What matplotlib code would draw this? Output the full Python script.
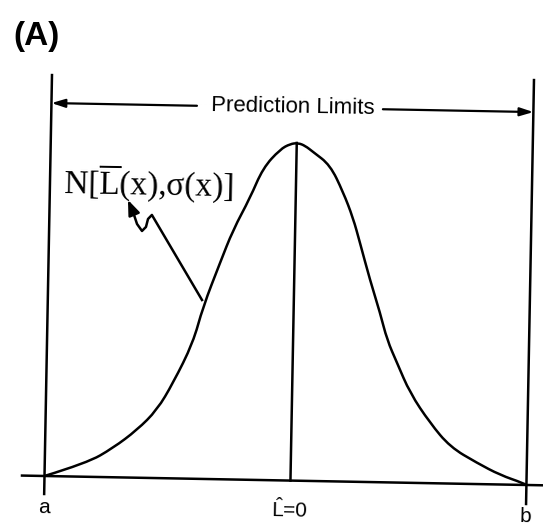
import matplotlib
matplotlib.use("Agg")
import matplotlib.pyplot as plt
from matplotlib.transforms import Affine2D
from matplotlib.path import Path
from matplotlib.patches import PathPatch

plt.rcParams['font.family'] = ['Liberation Sans', 'DejaVu Sans']
plt.rcParams['mathtext.fontset'] = 'custom'
plt.rcParams['mathtext.rm'] = 'Liberation Serif'
plt.rcParams['mathtext.it'] = 'Liberation Serif:italic'
plt.rcParams['mathtext.sf'] = 'Liberation Sans'

# curve: position along the axis, height above the axis
curve_x = [44.5, 86.8, 112.5, 136.1, 155.8, 171.3, 190.5, 199.8, 216.0, 228.4,
           244.8, 257.2, 274.0, 284.0, 291.8, 299.0, 307.0, 324.2, 337.7, 348.2,
           355.6, 366.3, 377.0, 384.5, 394.9, 408.4, 429.0, 449.5, 476.8, 500.0,
           523.1, 526.5]
curve_h = [0.0, 13.8, 29.3, 47.7, 68.1, 95.4, 135.8, 172.0, 216.3, 249.5,
           281.8, 312.0, 331.0, 336.6, 337.7, 335.0, 329.0, 316.3, 289.6, 263.8,
           238.9, 202.0, 169.3, 142.4, 119.6, 89.8, 60.2, 36.6, 21.1, 9.5,
           1.9, 0.0]

lim_a = 44.5
lim_b = 526.5
l_mean = 290.5

# pointer from the curve to the label (with the little squiggle)
pointer_x = [198.7, 147.0, 143.2, 141.3, 137.4, 132.3, 128.1]
pointer_y = [178.9, 263.0, 258.9, 250.9, 246.8, 253.7, 265.6]
pointer_tip = (122.8, 277.6)

title_txt = "Prediction Limits"
dist_txt = r"N[$\overline{\mathrm{L}}$(x),σ(x)]"
tick_txt = ["a", r"$\hat{\mathsf{L}}$=0", "b"]


def smooth_path(xs, ys):
    # quadratic pieces through the midpoints, the read points act as controls
    verts = [(xs[0], ys[0])]
    codes = [Path.MOVETO]
    for i in range(1, len(xs) - 1):
        mx = (xs[i] + xs[i + 1]) / 2
        my = (ys[i] + ys[i + 1]) / 2
        if i == len(xs) - 2:
            mx, my = xs[-1], ys[-1]
        verts += [(xs[i], ys[i]), (mx, my)]
        codes += [Path.CURVE3, Path.CURVE3]
    return Path(verts, codes)


fig = plt.figure(figsize=(5.43, 5.26), dpi=100)
ax = fig.add_axes([0, 0, 1, 1])
ax.set_xlim(0, 543)
ax.set_ylim(0, 526)
ax.axis('off')

# the scan is turned a little, so draw in an axis frame and tilt it
tilt = -1.07
tr = Affine2D().translate(0, 50).rotate_deg_around(45, 50, tilt) + ax.transData
lw = 1.8

ax.plot([22, 545], [0, 0], color='black', lw=lw, transform=tr)
ax.plot([lim_a, lim_a], [-18, 401], color='black', lw=lw, transform=tr)
ax.plot([lim_b, lim_b], [-19, 405], color='black', lw=lw, transform=tr)
ax.plot([l_mean, l_mean], [0, max(curve_h)], color='black', lw=lw, transform=tr)
ax.add_patch(PathPatch(smooth_path(curve_x, curve_h), facecolor='none',
                       edgecolor='black', lw=lw, transform=tr))

# prediction limits arrows
arr_y = 373
ax.annotate("", xy=(lim_a, arr_y), xytext=(190, arr_y), xycoords=tr, textcoords=tr,
            arrowprops=dict(arrowstyle='-|>,head_length=0.8,head_width=0.25',
                            color='black', lw=1.6, shrinkA=0, shrinkB=0))
ax.annotate("", xy=(lim_b, arr_y), xytext=(376, arr_y), xycoords=tr, textcoords=tr,
            arrowprops=dict(arrowstyle='-|>,head_length=0.8,head_width=0.25',
                            color='black', lw=1.6, shrinkA=0, shrinkB=0))
ax.text((lim_a + lim_b) / 2, 368, title_txt, transform=tr, fontsize=16,
        ha='center', va='baseline', rotation=tilt, rotation_mode='anchor')

# distribution label + pointer
ax.text(57.5, 284, dist_txt, transform=tr, fontsize=24, family='Liberation Serif',
        ha='left', va='baseline', rotation=tilt, rotation_mode='anchor')
ax.plot(pointer_x, pointer_y, color='black', lw=lw, transform=tr,
        solid_joinstyle='round')
ax.annotate("", xy=pointer_tip, xytext=(pointer_x[-1], pointer_y[-1]),
            xycoords=tr, textcoords=tr,
            arrowprops=dict(arrowstyle='-|>,head_length=0.9,head_width=0.35',
                            color='black', lw=lw, shrinkA=0, shrinkB=0))

# axis labels
for xpos, s in zip([lim_a, l_mean, lim_b], tick_txt):
    ax.text(xpos, -37, s, transform=tr, fontsize=15, ha='center', va='baseline',
            rotation=tilt, rotation_mode='anchor')

fig.text(13 / 543, 1 - 45 / 526, "(A)", fontsize=24, fontweight='heavy',
         ha='left', va='baseline')

fig.savefig("out.png", dpi=100)
